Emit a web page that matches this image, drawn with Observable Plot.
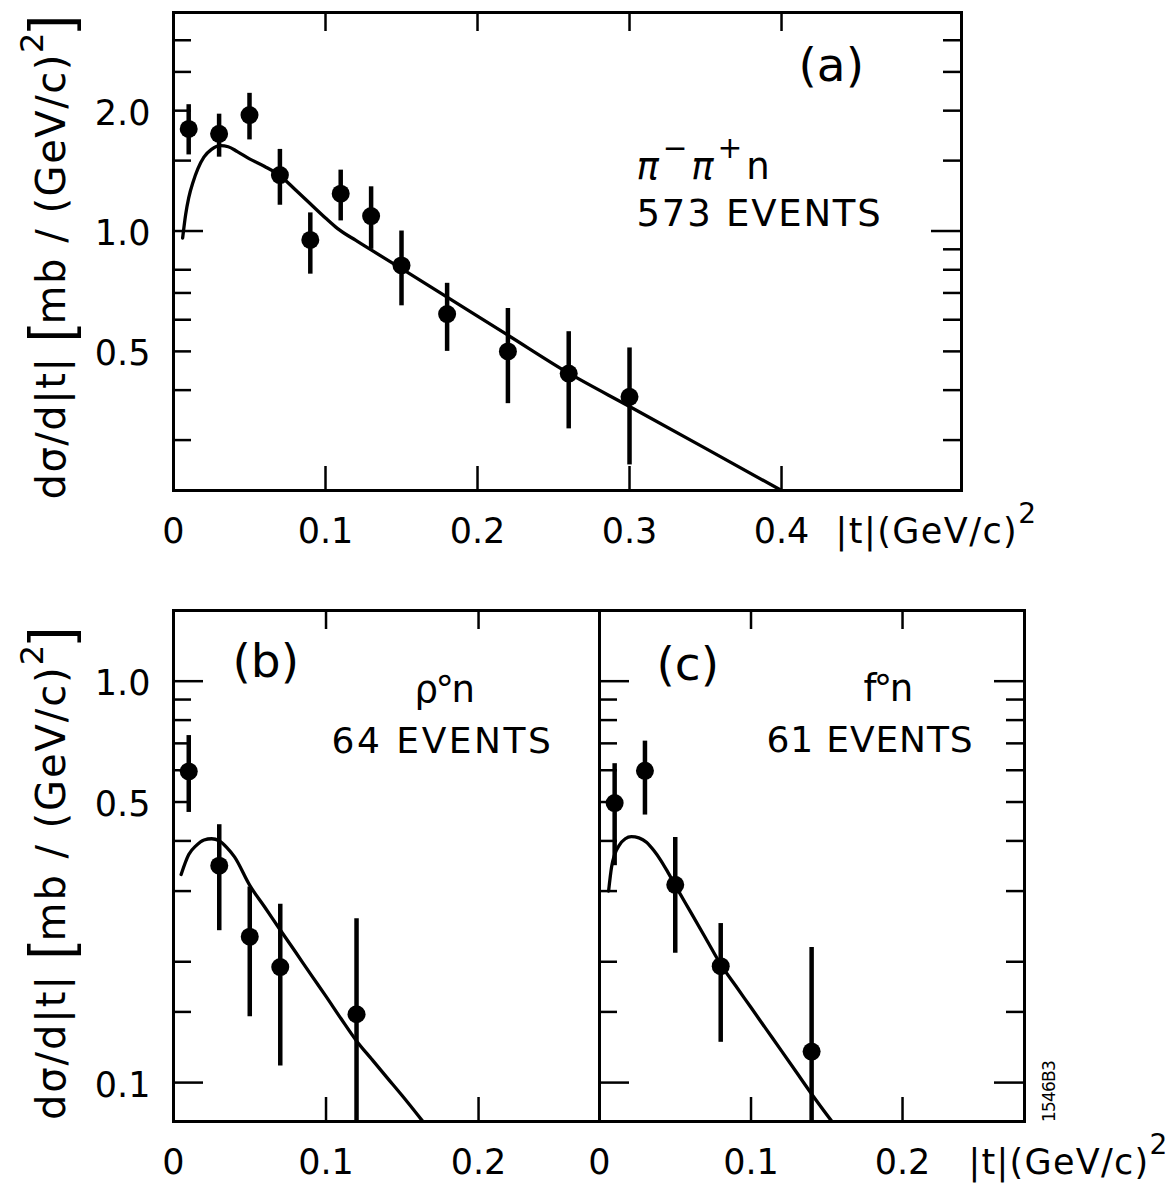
<!DOCTYPE html>
<html><head><meta charset="utf-8">
<script src="https://cdn.jsdelivr.net/npm/d3@7"></script>
<script src="https://cdn.jsdelivr.net/npm/@observablehq/plot@0.6"></script>
<style>
html,body{margin:0;padding:0;background:#fff;}
#root{position:relative;width:1175px;height:1186px;overflow:hidden;background:#fff;}
.panel{position:absolute;}
.panel svg{overflow:visible;display:block;}
</style></head><body><div id="root"></div>
<script>
// ---------- Panel (a): pi- pi+ n, 573 events ----------
const aT   = [0.01, 0.03, 0.05, 0.07, 0.09, 0.11, 0.13, 0.15, 0.18, 0.22, 0.26, 0.30];
const aY   = [1.80, 1.75, 1.95, 1.38, 0.95, 1.24, 1.09, 0.82, 0.62, 0.50, 0.44, 0.385];
const aLo  = [1.55, 1.53, 1.69, 1.16, 0.78, 1.06, 0.90, 0.65, 0.50, 0.37, 0.32, 0.26];
const aHi  = [2.07, 1.96, 2.21, 1.60, 1.11, 1.42, 1.29, 1.00, 0.74, 0.64, 0.56, 0.51];
const aFitT = [0.006,0.008,0.010,0.013,0.016,0.020,0.025,0.031,0.036,0.042,0.050,0.060,0.070,0.080,0.090,0.100,0.108,0.120,0.130,0.150,0.180,0.220,0.260,0.300,0.350,0.400];
const aFitY = [0.96,1.10,1.21,1.33,1.43,1.53,1.60,1.635,1.625,1.58,1.515,1.45,1.376,1.27,1.17,1.078,1.014,0.947,0.897,0.805,0.683,0.549,0.441,0.364,0.286,0.2244];

// ---------- Panel (b): rho0 n, 64 events ----------
const bT   = [0.01, 0.03, 0.05, 0.07, 0.12];
const bY   = [0.596, 0.347, 0.231, 0.194, 0.148];
const bLo  = [0.471, 0.239, 0.146, 0.110, 0.08];
const bHi  = [0.732, 0.439, 0.307, 0.278, 0.256];
const bFitT = [0.005,0.010,0.015,0.020,0.025,0.030,0.035,0.040,0.050,0.060,0.070,0.080,0.090,0.100,0.110,0.120,0.130,0.140,0.150,0.1635];
const bFitY = [0.33,0.37,0.39,0.402,0.405,0.40,0.385,0.365,0.31,0.273,0.240,0.2115,0.186,0.164,0.144,0.127,0.1143,0.1029,0.0927,0.08];

// ---------- Panel (c): f0 n, 61 events ----------
const cT   = [0.01, 0.03, 0.05, 0.08, 0.14];
const cY   = [0.497, 0.598, 0.311, 0.195, 0.1195];
const cLo  = [0.347, 0.464, 0.210, 0.126, 0.08];
const cHi  = [0.623, 0.709, 0.408, 0.249, 0.217];
const cFitT = [0.006,0.008,0.010,0.013,0.017,0.021,0.026,0.031,0.036,0.040,0.045,0.050,0.060,0.070,0.080,0.090,0.100,0.110,0.120,0.130,0.140,0.1534];
const cFitY = [0.30,0.345,0.37,0.39,0.405,0.41,0.407,0.397,0.378,0.36,0.335,0.31,0.2666,0.2292,0.197,0.174,0.1538,0.1359,0.1201,0.1061,0.0937,0.08];

// ---------- ticks and tick labels ----------
const aYTicksLeft  = [3, 2.5, 2, 1.5, 0.8, 0.7, 0.6, 0.5, 0.4, 0.3];
const aYTicksRight = [3, 2.5, 2, 1.5, 0.9, 0.8, 0.7, 0.6, 0.5, 0.4, 0.3];
const aYTicksLong  = [1];
const aXTicks      = [0.1, 0.2, 0.3, 0.4];
const aXLabels     = [0, 0.1, 0.2, 0.3, 0.4];
const aYLabels     = [2, 1, 0.5];

const bcYTicks     = [0.9, 0.8, 0.7, 0.6, 0.5, 0.4, 0.3, 0.2, 0.15];
const bcYTicksLong = [1, 0.1];
const bcXTicks     = [0.1, 0.2];
const bcXLabels    = [0, 0.1, 0.2];
const bcYLabels    = [1, 0.5, 0.1];

const yTitle = "dσ/d|t| ~{[}mb / (GeV/c)^{2}~{]}";
const xTitle = "|t|(GeV/c)^{2}";

const FONT = "'DejaVu Sans', sans-serif";
const rows = (t, y, lo, hi) => t.map((d, i) => ({t: d, y: y[i], lo: lo ? lo[i] : null, hi: hi ? hi[i] : null}));
const fmtX = d => d === 0 ? "0" : d.toFixed(1);
const fmtY = d => d.toFixed(1);

function richify(svg, targets) {
  svg.querySelectorAll("text").forEach(t => {
    const s = t.textContent;
    const hasMarkup = /[\^~*]\{/.test(s);
    if (!hasMarkup && !targets.has(s)) return;
    const f = parseFloat(getComputedStyle(t).fontSize);
    if (hasMarkup) {
      const segs = []; let i = 0, buf = "";
      while (i < s.length) {
        if ("^~*".includes(s[i]) && s[i + 1] === "{") {
          if (buf) segs.push({k: "", s: buf}); buf = "";
          const j = s.indexOf("}", i);
          segs.push({k: s[i], s: s.slice(i + 2, j)}); i = j + 1;
        } else buf += s[i++];
      }
      if (buf) segs.push({k: "", s: buf});
      t.textContent = "";
      let shift = 0;
      for (const g of segs) {
        const ts = document.createElementNS("http://www.w3.org/2000/svg", "tspan");
        let want = 0;
        if (g.k === "^") { want = -0.55 * f; ts.setAttribute("font-size", (0.8 * f) + "px"); }
        else if (g.k === "~") { want = 0.1 * f; ts.setAttribute("font-size", (1.45 * f) + "px"); ts.setAttribute("font-family", "'Liberation Sans', sans-serif"); }
        else if (g.k === "*") { ts.setAttribute("font-style", "italic"); }
        ts.setAttribute("dy", (want - shift) + "px");
        shift = want;
        ts.textContent = g.s;
        t.appendChild(ts);
      }
    }
    if (targets.has(s)) {
      const w = t.getComputedTextLength();
      const n = t.textContent.length;
      t.style.letterSpacing = ((targets.get(s) - w) / n) + "px";
    }
  });
}

function makePanel(cfg) {
  const root = document.getElementById("root");
  const b = cfg.box, f = cfg.frame;
  const W = f.r - f.l, H = f.b - f.t;
  const pts = rows(cfg.t, cfg.y, cfg.lo, cfg.hi);
  const fit = rows(cfg.fitT, cfg.fitY);
  const marks = [
    Plot.frame({stroke: "black", strokeWidth: 3}),
    Plot.tickX(cfg.xTicks, {x: d => d, insetBottom: H - 19, strokeWidth: 2.5}),
    Plot.tickX(cfg.xTicks, {x: d => d, insetTop: H - 24, strokeWidth: 2.5}),
    Plot.text(cfg.xLabels, {x: d => d, frameAnchor: "bottom", dy: 52, lineAnchor: "bottom", text: fmtX, fontSize: 35}),
    Plot.line(fit, {x: "t", y: "y", strokeWidth: 3.3, curve: "monotone-x", clip: true}),
    Plot.ruleX(pts, {x: "t", y1: "lo", y2: "hi", strokeWidth: 4.5, clip: true}),
    Plot.dot(pts, {x: "t", y: "y", r: 9, fill: "black", stroke: null})
  ];
  if (cfg.yLeft) marks.push(Plot.tickY(cfg.yLeft, {y: d => d, insetRight: W - 18, strokeWidth: 2.5}));
  if (cfg.yLeftLong) marks.push(Plot.tickY(cfg.yLeftLong, {y: d => d, insetRight: W - 30, strokeWidth: 2.5}));
  if (cfg.yRight) marks.push(Plot.tickY(cfg.yRight, {y: d => d, insetLeft: W - 18, strokeWidth: 2.5}));
  if (cfg.yRightLong) marks.push(Plot.tickY(cfg.yRightLong, {y: d => d, insetLeft: W - 30, strokeWidth: 2.5}));
  if (cfg.yLabels) marks.push(Plot.text(cfg.yLabels, {y: d => d, frameAnchor: "left", dx: -23, dy: 14, textAnchor: "end", lineAnchor: "bottom", text: fmtY, fontSize: 35}));
  const targets = new Map();
  for (const t of cfg.texts) {
    marks.push(Plot.text([t.s], {
      frameAnchor: "top-left", dx: t.x - f.l, dy: t.y - f.t, text: d => d,
      textAnchor: t.anchor || "start", lineAnchor: "bottom",
      fontSize: t.size, rotate: t.rotate || 0
    }));
    if (t.w) targets.set(t.s, t.w);
  }
  const svg = Plot.plot({
    width: b.width, height: b.height,
    marginLeft: f.l - b.left, marginRight: b.left + b.width - f.r,
    marginTop: f.t - b.top, marginBottom: b.top + b.height - f.b,
    x: {type: "linear", domain: cfg.xDomain, axis: null},
    y: {type: "log", domain: cfg.yDomain, axis: null},
    style: {fontFamily: FONT, fontSize: "35px", color: "black", background: "transparent", overflow: "visible"},
    marks
  });
  const div = document.createElement("div");
  div.className = "panel";
  div.style.left = b.left + "px"; div.style.top = b.top + "px";
  div.style.width = b.width + "px"; div.style.height = b.height + "px";
  div.appendChild(svg);
  root.appendChild(div);
  richify(svg, targets);
}

// Panel (a)
makePanel({
  box: {left: 0, top: 0, width: 1175, height: 575},
  frame: {l: 173, t: 12, r: 961, b: 490},
  xDomain: [0, 0.5184], yDomain: [0.2244, 3.52],
  t: aT, y: aY, lo: aLo, hi: aHi, fitT: aFitT, fitY: aFitY,
  xTicks: aXTicks, xLabels: aXLabels, yLabels: aYLabels,
  yLeft: aYTicksLeft, yLeftLong: aYTicksLong, yRight: aYTicksRight, yRightLong: aYTicksLong,
  texts: [
    {s: "(a)", x: 798, y: 80, size: 47},
    {s: "*{π}^{−}*{π}^{+}n", x: 636, y: 178, size: 37, w: 137},
    {s: "573 EVENTS", x: 636, y: 225, size: 37, w: 246},
    {s: xTitle, x: 835, y: 542, size: 35, w: 202},
    {s: yTitle, x: 64, y: 256, size: 40, anchor: "middle", rotate: -90, w: 486}
  ]
});

// Panel (b)
makePanel({
  box: {left: 0, top: 580, width: 620, height: 606},
  frame: {l: 173, t: 610, r: 599, b: 1121},
  xDomain: [0, 0.2793], yDomain: [0.08, 1.5],
  t: bT, y: bY, lo: bLo, hi: bHi, fitT: bFitT, fitY: bFitY,
  xTicks: bcXTicks, xLabels: bcXLabels, yLabels: bcYLabels,
  yLeft: bcYTicks, yLeftLong: bcYTicksLong,
  texts: [
    {s: "(b)", x: 232, y: 676, size: 47},
    {s: "ρ°n", x: 414, y: 701, size: 37, w: 58},
    {s: "64 EVENTS", x: 331, y: 752, size: 36, w: 222},
    {s: yTitle, x: 64, y: 872, size: 40, anchor: "middle", rotate: -90, w: 495}
  ]
});

// Panel (c)
makePanel({
  box: {left: 560, top: 580, width: 615, height: 606},
  frame: {l: 599, t: 610, r: 1024, b: 1121},
  xDomain: [0, 0.2805], yDomain: [0.08, 1.5],
  t: cT, y: cY, lo: cLo, hi: cHi, fitT: cFitT, fitY: cFitY,
  xTicks: bcXTicks, xLabels: bcXLabels,
  yLeft: bcYTicks, yLeftLong: bcYTicksLong, yRight: bcYTicks, yRightLong: bcYTicksLong,
  texts: [
    {s: "(c)", x: 656, y: 679, size: 47},
    {s: "f°n", x: 863, y: 700, size: 37, w: 47},
    {s: "61 EVENTS", x: 766, y: 751, size: 36, w: 207},
    {s: "1546B3", x: 1054, y: 1091, size: 17, anchor: "middle", rotate: -90, w: 61},
    {s: xTitle, x: 968, y: 1173, size: 35, w: 200}
  ]
});
</script></body></html>
